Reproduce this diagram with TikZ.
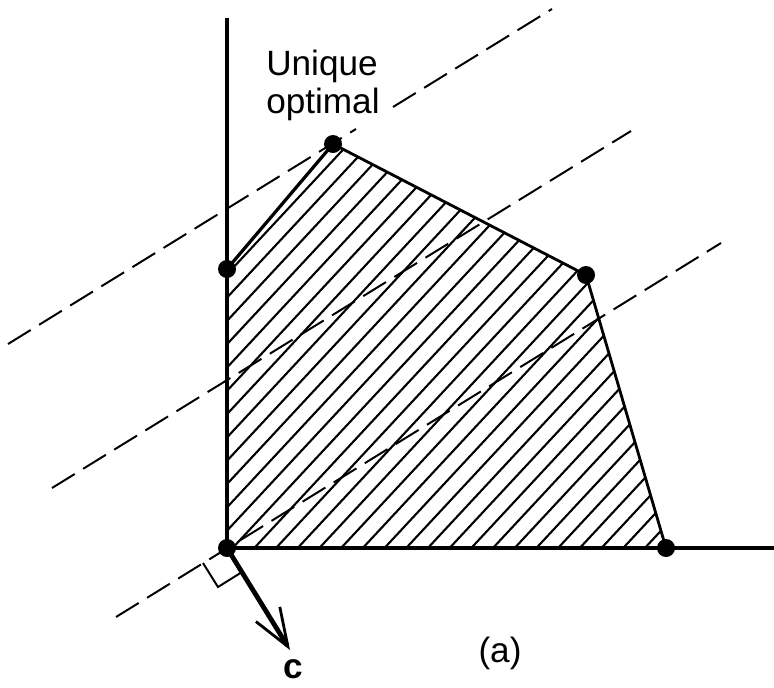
\documentclass[tikz,border=0pt]{standalone}
\usepackage{fontspec}
\setmainfont{Liberation Sans}
\usetikzlibrary{arrows.meta,calc,positioning}

\begin{document}
\begin{tikzpicture}[
    x=0.025cm, y=-0.025cm,
    axis/.style={line width=2.3pt},
    edge/.style={line width=2pt},
    level/.style={line width=1.4pt, dash pattern=on 19pt off 7pt},
    hatch/.style={line width=1.5pt},
    vertex/.style={circle, fill=black, inner sep=0pt, minimum size=0.45cm},
    label/.style={font=\fontsize{25}{27}\selectfont, inner sep=0pt},
    cvec/.style={line width=3.4pt, -{Straight Barb[length=0.95cm, width=0.7cm, line width=2pt]}}
]
\useasboundingbox (0,0) rectangle (774,687);

% Corners of the feasible region and ends of the axes.
\coordinate (O) at (227,548);
\coordinate (A) at (227,269);
\coordinate (B) at (333,144);
\coordinate (C) at (586,275);
\coordinate (D) at (666,548);
\coordinate (ytop) at (227,18);
\coordinate (xend) at (774,548);

% Hatching of the feasible region.
\begin{scope}
    \clip (O) -- (A) -- (B) -- (C) -- (D) -- cycle;
    \foreach \n in {-22,...,14} {
        \draw[hatch] ({395+21.7*\n},560) -- ++(540,-580);
    }
\end{scope}

% Level lines of the objective, all parallel. The top one breaks
% where it passes the label.
\coordinate (L1a) at (8,344);
\coordinate (L1m) at (356,129);
\coordinate (L1n) at (393,107);
\coordinate (L1b) at (552,9);
\coordinate (L2a) at (52,488);
\coordinate (L2b) at (631,131);
\coordinate (L3a) at (116,617);
\coordinate (L3b) at (721,243);
\draw[level] (L1a) -- (L1m);
\draw[level] (L1n) -- (L1b);
\draw[level] (L2a) -- (L2b);
\draw[level] (L3a) -- (L3b);

% Boundary and axes.
\draw[axis] (ytop) -- (O) -- (xend);
\draw[axis] (A) -- (B);
\draw[edge] (B) -- (C) -- (D);

% Right angle mark and cost vector.
\draw[line width=1.4pt] (203,563) -- (218,587) -- (242,572);
\coordinate (ctip) at (290,650);
\draw[cvec] (O) -- (ctip);

\foreach \v in {O,A,B,C,D} {
    \node[vertex] (v\v) at (\v) {};
}

\node[label, align=left, anchor=base west] (opt) at (266,113) {Unique\\optimal};
\node[label, font=\fontsize{25}{27}\selectfont\bfseries, anchor=base] (clabel) at (293,678) {c};
\node[label, anchor=base] (part) at (500,662) {(a)};

\end{tikzpicture}
\end{document}
